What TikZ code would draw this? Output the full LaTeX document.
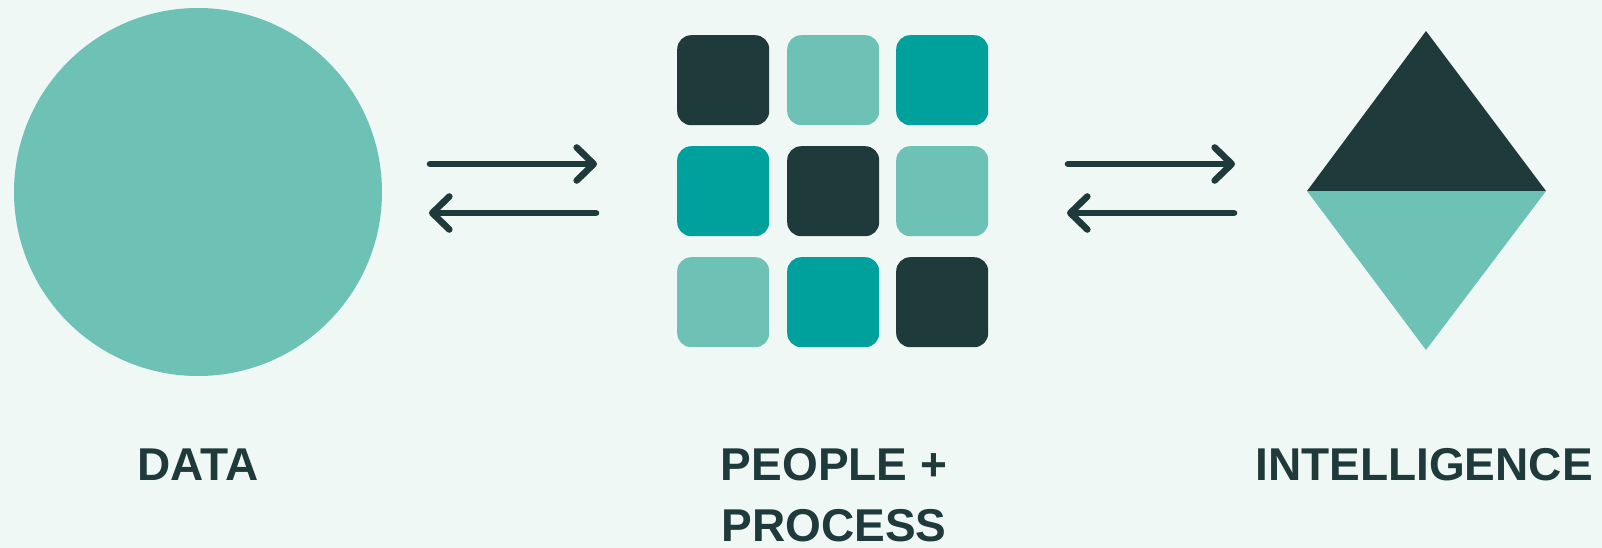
\documentclass[tikz,border=0pt]{standalone}
\usepackage{fontspec}
\setmainfont{Liberation Sans}
\newfontfamily\labelfont{Liberation Sans Bold}
\usetikzlibrary{arrows.meta}
\definecolor{bgc}{HTML}{F0F8F6}
\definecolor{lightc}{HTML}{6DC2B5}
\definecolor{tealc}{HTML}{00A19D}
\definecolor{darkc}{HTML}{1F3A3A}
\tikzset{
  x=1pt,y=-1pt,
  sq/.style={rounded corners=14pt,minimum width=92pt,minimum height=90pt,inner sep=0pt,anchor=north west},
  flow/.style={draw=darkc,line width=6.6pt,line cap=round,line join=round,
    -{Straight Barb[length=17pt,width=33pt,round,line width=6.6pt]}},
  lbl/.style={font=\labelfont\fontsize{46}{55}\selectfont,text=darkc,align=center,inner sep=0pt,anchor=center}
}
\begin{document}
\begin{tikzpicture}
\useasboundingbox (0,0) rectangle (1602,548);
\fill[bgc] (0,0) rectangle (1602,548);
\node[circle,fill=lightc,minimum size=368pt,inner sep=0pt] (data) at (198,192) {};
\node[sq,fill=darkc] (s11) at (677,35) {};
\node[sq,fill=lightc] (s12) at (787,35) {};
\node[sq,fill=tealc] (s13) at (896,35) {};
\node[sq,fill=tealc] (s21) at (677,146) {};
\node[sq,fill=darkc] (s22) at (787,146) {};
\node[sq,fill=lightc] (s23) at (896,146) {};
\node[sq,fill=lightc] (s31) at (677,257) {};
\node[sq,fill=tealc] (s32) at (787,257) {};
\node[sq,fill=darkc] (s33) at (896,257) {};
\fill[darkc] (1307,191) -- (1426,31) -- (1546,191) -- cycle;
\fill[lightc] (1307,191) -- (1426,350) -- (1546,191) -- cycle;
\coordinate (a1) at (430,164); \coordinate (a2) at (597,164);
\coordinate (b1) at (596,213); \coordinate (b2) at (429,213);
\coordinate (c1) at (1068,164); \coordinate (c2) at (1235,164);
\coordinate (d1) at (1234,213); \coordinate (d2) at (1067,213);
\draw[flow] (a1) -- (a2);
\draw[flow] (b1) -- (b2);
\draw[flow] (c1) -- (c2);
\draw[flow] (d1) -- (d2);
\node[lbl] (ldata) at (198,465) {DATA};
\node[lbl] (lpeople) at (834,465) {PEOPLE +};
\node[lbl] (lprocess) at (834,526) {PROCESS};
\node[lbl] (lintel) at (1424,465) {INTELLIGENCE};
\end{tikzpicture}
\end{document}
